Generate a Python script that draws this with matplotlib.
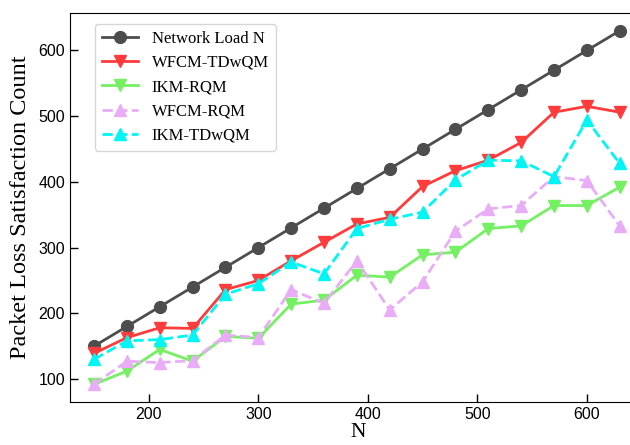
import matplotlib
matplotlib.use("Agg")
import matplotlib.pyplot as plt

# network load values on the x axis
loads = [150, 180, 210, 240, 270, 300, 330, 360, 390, 420, 450, 480, 510, 540, 570, 600, 630]

network_load = loads
wfcm_tdwqm = [139, 163, 178, 177, 236, 250, 280, 308, 336, 346, 393, 417, 433, 460, 506, 515, 506]
ikm_rqm = [92, 112, 145, 127, 165, 162, 214, 220, 258, 255, 289, 293, 329, 333, 364, 364, 392]
wfcm_rqm = [92, 127, 125, 128, 167, 163, 236, 215, 280, 205, 248, 325, 359, 364, 408, 402, 333]
ikm_tdwqm = [130, 158, 160, 167, 229, 245, 278, 260, 329, 343, 354, 403, 433, 432, 408, 494, 428]

serif = ["Liberation Serif", "DejaVu Serif"]

fig = plt.figure(figsize=(6.3, 4.45), dpi=100)
ax = fig.add_axes([70 / 630, 43 / 445, 576 / 630, 389 / 445])

lw = 2
ms = 8.5
ax.plot(loads, network_load, color="#4d4d4d", marker="o", lw=lw, ms=ms, label="Network Load N")
ax.plot(loads, wfcm_tdwqm, color="#ff3b3b", marker="v", lw=lw, ms=ms, label="WFCM-TDwQM")
ax.plot(loads, ikm_rqm, color="#74f062", marker="v", lw=lw, ms=ms, label="IKM-RQM")
ax.plot(loads, wfcm_rqm, color="#e8adf6", marker="^", lw=lw, ms=ms, ls="--", label="WFCM-RQM")
ax.plot(loads, ikm_tdwqm, color="#00f5f5", marker="^", lw=lw, ms=ms, ls="--", label="IKM-TDwQM")

ax.set_xlim(128, 654)
ax.set_ylim(65, 657)
ax.set_xticks([200, 300, 400, 500, 600])
ax.set_yticks([100, 200, 300, 400, 500, 600])
ax.tick_params(direction="in", length=6, width=1, labelsize=11.5)
for lab in ax.get_xticklabels() + ax.get_yticklabels():
    lab.set_family(["Liberation Sans", "DejaVu Sans"])

ax.set_xlabel("N", fontsize=15.5, family=serif, labelpad=1)
ax.set_ylabel("Packet Loss Satisfaction Count", fontsize=17.5, family=serif, labelpad=5)

leg = ax.legend(loc="upper left", prop={"family": serif, "size": 12},
                bbox_to_anchor=(0.035, 0.985), borderaxespad=0.3, handlelength=2.2)

fig.savefig("out.png", dpi=100)
